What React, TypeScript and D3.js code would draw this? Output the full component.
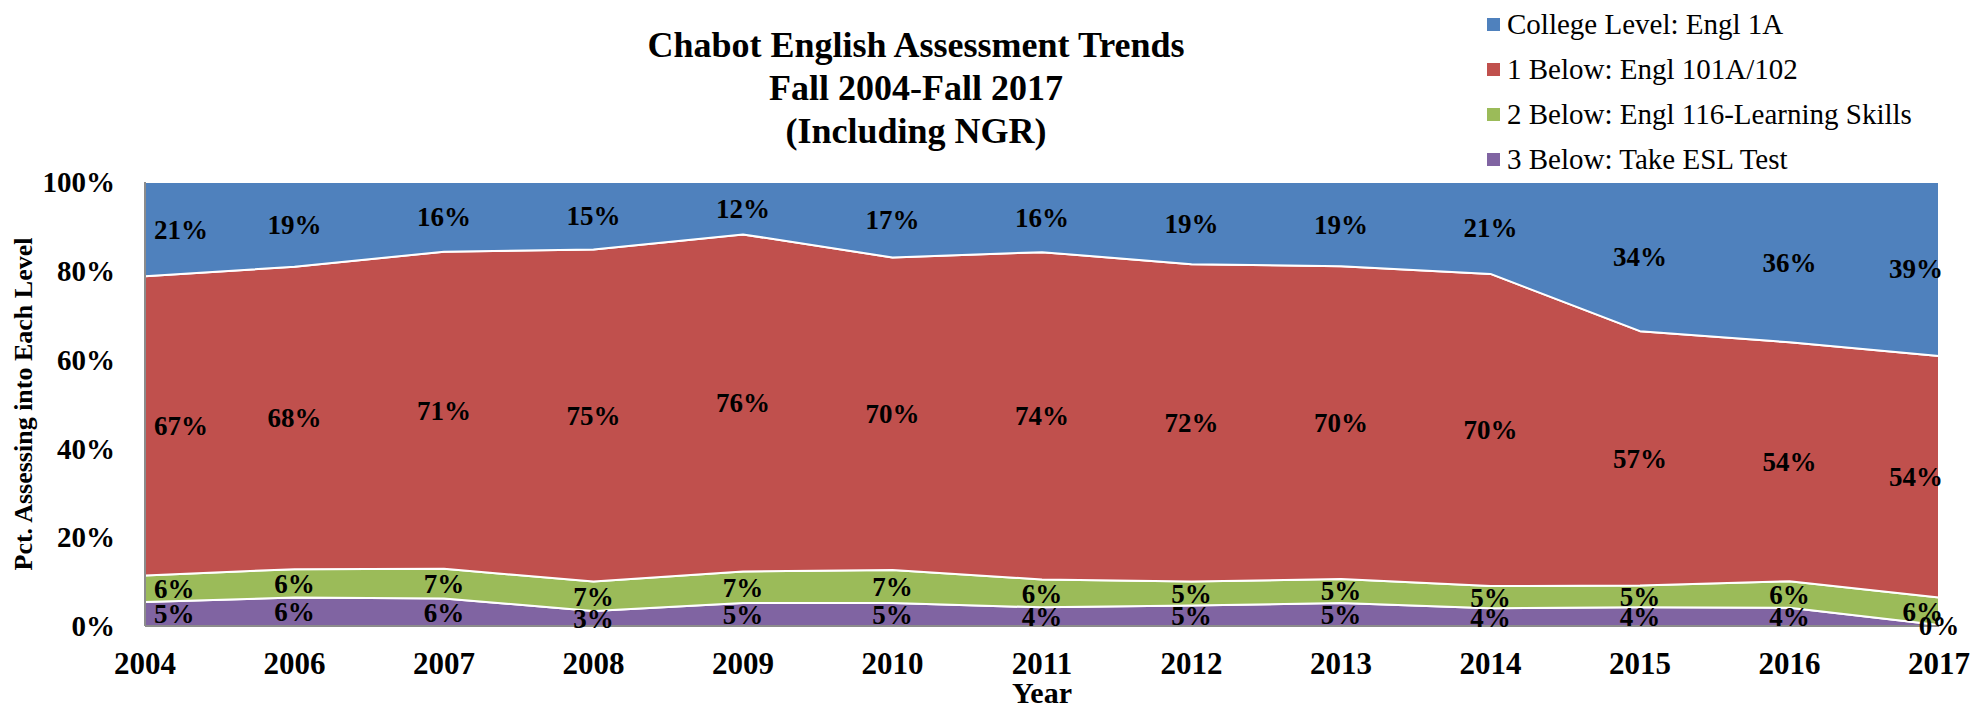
import React, { useRef, useEffect } from 'react';
import * as d3 from 'd3';

// categories and series (percent of students per level)
const years = ['2004', '2006', '2007', '2008', '2009', '2010', '2011', '2012', '2013', '2014', '2015', '2016', '2017'];
const collegeLevel = [21.2, 19.1, 15.7, 15.2, 11.8, 17.0, 15.8, 18.5, 19.0, 20.7, 33.6, 36.1, 39.2];
const oneBelow = [67.4, 68.1, 71.4, 74.8, 75.9, 70.4, 73.7, 71.5, 70.4, 70.3, 57.3, 53.8, 54.4];
const twoBelow = [6.0, 6.4, 6.7, 6.6, 7.1, 7.4, 6.3, 5.4, 5.4, 5.0, 4.9, 6.0, 6.2];
const threeBelow = [5.4, 6.4, 6.2, 3.4, 5.2, 5.2, 4.2, 4.6, 5.2, 4.0, 4.2, 4.1, 0.2];

const yTicks = [0, 20, 40, 60, 80, 100];
const titleLines = ['Chabot English Assessment Trends', 'Fall 2004-Fall 2017', '(Including NGR)'];

// bottom to top stacking order
const series = [
    { key: 'three', name: '3 Below: Take ESL Test', values: threeBelow, color: '#8064A2' },
    { key: 'two', name: '2 Below: Engl 116-Learning Skills', values: twoBelow, color: '#9BBB59' },
    { key: 'one', name: '1 Below: Engl 101A/102', values: oneBelow, color: '#C0504D' },
    { key: 'college', name: 'College Level: Engl 1A', values: collegeLevel, color: '#4F81BD' },
];

const FONT = '"Liberation Serif", "Times New Roman", serif';

const AreaChart: React.FC = () => {
    const ref = useRef<SVGSVGElement>(null);

    useEffect(() => {
        if (ref.current) drawChart();
    }, []);

    const drawChart = () => {
        const svg = d3.select(ref.current);
        svg.selectAll('*').remove();

        const margin = { left: 145, right: 1939, top: 182, bottom: 626 };

        const x = d3.scalePoint<string>().domain(years).range([margin.left, margin.right]);
        const y = d3.scaleLinear().domain([0, 100]).range([margin.bottom, margin.top]);

        const rows = years.map((yr, i) => {
            const r: any = { year: yr };
            series.forEach(s => (r[s.key] = s.values[i]));
            return r;
        });
        const stacked = d3.stack().keys(series.map(s => s.key))(rows);

        const area = d3.area<any>()
            .x(d => x(d.data.year)!)
            .y0(d => y(d[0]))
            .y1(d => y(d[1]));

        svg.append('g')
            .selectAll('path')
            .data(stacked)
            .enter().append('path')
            .attr('d', d => area(d as any))
            .attr('fill', (_, i) => series[i].color)
            .attr('stroke', '#fff')
            .attr('stroke-width', 2)
            .attr('stroke-linejoin', 'round');

        // axis lines
        svg.append('line')
            .attr('x1', margin.left).attr('x2', margin.left)
            .attr('y1', margin.top).attr('y2', margin.bottom)
            .attr('stroke', '#8c8c8c').attr('stroke-width', 2);
        svg.append('line')
            .attr('x1', margin.left).attr('x2', margin.right)
            .attr('y1', margin.bottom).attr('y2', margin.bottom)
            .attr('stroke', '#8c8c8c').attr('stroke-width', 2);

        // y tick labels
        svg.append('g')
            .selectAll('text')
            .data(yTicks)
            .enter().append('text')
            .attr('x', 115)
            .attr('y', d => y(d))
            .attr('dy', '0.35em')
            .attr('text-anchor', 'end')
            .attr('font-family', FONT)
            .attr('font-weight', 'bold')
            .attr('font-size', 29)
            .text(d => `${d}%`);

        // x tick labels
        svg.append('g')
            .selectAll('text')
            .data(years)
            .enter().append('text')
            .attr('x', d => x(d)!)
            .attr('y', 674)
            .attr('text-anchor', 'middle')
            .attr('font-family', FONT)
            .attr('font-weight', 'bold')
            .attr('font-size', 31)
            .text(d => d);

        // data labels, in the middle of each band
        const labels = svg.append('g');
        stacked.forEach(layer => {
            layer.forEach((d, i) => {
                const first = i === 0;
                const last = i === years.length - 1;
                const tiny = d[1] - d[0] < 1;
                let xPos = x(years[i])!;
                let anchor = 'middle';
                if (first) { xPos = margin.left + 9; anchor = 'start'; }
                else if (last && !tiny) { xPos = margin.right + 4; anchor = 'end'; }
                labels.append('text')
                    .attr('x', xPos)
                    .attr('y', y((d[0] + d[1]) / 2))
                    .attr('dy', '0.35em')
                    .attr('text-anchor', anchor)
                    .attr('font-family', FONT)
                    .attr('font-weight', 'bold')
                    .attr('font-size', 27)
                    .text(`${Math.round(d[1] - d[0])}%`);
            });
        });

        // axis titles
        svg.append('text')
            .attr('x', (margin.left + margin.right) / 2)
            .attr('y', 703)
            .attr('text-anchor', 'middle')
            .attr('font-family', FONT)
            .attr('font-weight', 'bold')
            .attr('font-size', 30)
            .text('Year');

        svg.append('text')
            .attr('transform', `translate(32,${(margin.top + margin.bottom) / 2}) rotate(-90)`)
            .attr('text-anchor', 'middle')
            .attr('font-family', FONT)
            .attr('font-weight', 'bold')
            .attr('font-size', 26)
            .text('Pct. Assessing into Each Level');

        // title
        svg.append('g')
            .selectAll('text')
            .data(titleLines)
            .enter().append('text')
            .attr('x', 916)
            .attr('y', (_, i) => 57 + i * 43)
            .attr('text-anchor', 'middle')
            .attr('font-family', FONT)
            .attr('font-weight', 'bold')
            .attr('font-size', 36)
            .text(d => d);

        // legend
        const legend = svg.append('g')
            .selectAll('g')
            .data(series.slice().reverse())
            .enter().append('g')
            .attr('transform', (_, i) => `translate(1487,${24 + i * 45})`);
        legend.append('rect')
            .attr('x', 0).attr('y', -6)
            .attr('width', 13).attr('height', 13)
            .attr('fill', d => d.color);
        legend.append('text')
            .attr('x', 20)
            .attr('y', 0)
            .attr('dy', '0.35em')
            .attr('font-family', FONT)
            .attr('font-size', 29)
            .text(d => d.name);
    };

    return (
        <svg ref={ref} width={1971} height={709} style={{ position: 'absolute', left: 0, top: 0, background: '#fff' }} />
    );
};

const App = () => <AreaChart />;

export default App;
